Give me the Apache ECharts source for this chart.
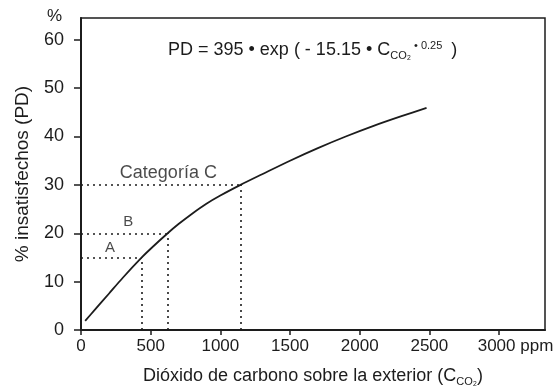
<!DOCTYPE html>
<html>
<head>
<meta charset="utf-8">
<script src="https://cdn.jsdelivr.net/npm/echarts@6/dist/echarts.min.js"></script>
<style>
  html, body { margin: 0; padding: 0; background: #fff; }
  #chart { width: 558px; height: 392px; }
</style>
</head>
<body>
<div id="chart"></div>
<script>
// CO2 above exterior (ppm) vs % dissatisfied
const co2 = [30, 100, 200, 300, 436, 500, 622, 700, 800, 900, 1000, 1145, 1300, 1500, 1700, 1900, 2100, 2300, 2480];
const pd = [1.9, 4.2, 7.5, 10.8, 15.0, 16.8, 20.0, 21.9, 24.1, 26.1, 27.8, 30.0, 32.2, 35.0, 37.6, 40.0, 42.2, 44.2, 45.9];

// category thresholds: [ppm, %]
const categories = ['A', 'B', 'Categoría C'];
const thresholdCo2 = [436, 622, 1145];
const thresholdPd = [15, 20, 30];
const labelCo2 = [208, 340, 627];
const labelPd = [17.0, 22.3, 32.5];
const labelSize = [15, 15, 18];

const xTicks = [0, 500, 1000, 1500, 2000, 2500, 3000];
const yTicks = [0, 10, 20, 30, 40, 50, 60];

const ink = '#1c1c1c';
const font = 'Liberation Sans, Arial, sans-serif';

const refLines = [];
thresholdCo2.forEach((c, i) => {
  const p = thresholdPd[i];
  refLines.push([{ coord: [0, p] }, { coord: [c, p] }]);
  refLines.push([{ coord: [c, 0] }, { coord: [c, p] }]);
});

const chart = echarts.init(document.getElementById('chart'));

chart.setOption({
  animation: false,
  backgroundColor: '#fff',
  textStyle: { fontFamily: font, color: ink },
  grid: {
    left: 81, right: 13, top: 18, bottom: 60,
    show: true, borderColor: ink, borderWidth: 1.5, backgroundColor: 'transparent'
  },
  xAxis: {
    type: 'value',
    min: 0, max: 3330, interval: 500,
    splitLine: { show: false },
    axisLine: { onZero: false, lineStyle: { color: ink, width: 2 } },
    axisTick: { show: true, length: 5, customValues: xTicks, lineStyle: { color: ink, width: 1.5 } },
    axisLabel: {
      customValues: xTicks,
      color: ink, fontSize: 17, fontFamily: font, margin: 8,
      formatter: v => v === 3000 ? '{s|}3000 ppm' : String(v),
      rich: { s: { width: 33 } }
    },
    name: 'Dióxido de carbono sobre la exterior (C{sub|CO₂})',
    nameLocation: 'middle',
    nameGap: 36,
    nameTextStyle: {
      color: ink, fontSize: 18, fontFamily: font,
      rich: { sub: { fontSize: 11, padding: [10, 0, 0, 0], fontFamily: font, color: ink } }
    }
  },
  yAxis: {
    type: 'value',
    min: 0, max: 64.5, interval: 10,
    splitLine: { show: false },
    axisLine: { onZero: false, lineStyle: { color: ink, width: 2 } },
    axisTick: { show: true, length: 7, customValues: yTicks, lineStyle: { color: ink, width: 1.5 } },
    axisLabel: { customValues: yTicks, color: ink, fontSize: 18, fontFamily: font, margin: 17 },
    name: '% insatisfechos (PD)',
    nameLocation: 'middle',
    nameGap: 49,
    nameTextStyle: { color: ink, fontSize: 19, fontFamily: font }
  },
  graphic: [
    {
      type: 'text', left: 47, top: 8,
      style: { text: '%', fontSize: 17, fontFamily: font, fill: ink }
    },
    {
      type: 'text', left: 168, top: 40,
      style: {
        text: 'PD = 395 • exp ( - 15.15 • C{sub|CO₂}{sup| • 0.25} )',
        fontSize: 18, fontFamily: font, fill: ink,
        rich: {
          sub: { fontSize: 11, padding: [10, 0, 0, 0], fontFamily: font, fill: ink },
          sup: { fontSize: 11, padding: [0, 4, 10, 0], fontFamily: font, fill: ink }
        }
      }
    }
  ],
  series: [
    {
      name: 'PD',
      type: 'line',
      data: co2.map((c, i) => [c, pd[i]]),
      showSymbol: false,
      smooth: 0.3,
      lineStyle: { color: ink, width: 1.8 },
      markLine: {
        silent: true,
        symbol: 'none',
        label: { show: false },
        lineStyle: { color: ink, width: 1.6, type: [2, 4] },
        data: refLines
      }
    },
    {
      name: 'categorías',
      type: 'scatter',
      symbolSize: 0,
      data: categories.map((n, i) => ({
        value: [labelCo2[i], labelPd[i], n],
        label: { fontSize: labelSize[i] }
      })),
      label: {
        show: true, position: 'inside',
        formatter: p => p.data.value[2],
        color: ink, fontFamily: font
      }
    }
  ]
});
</script>
</body>
</html>
